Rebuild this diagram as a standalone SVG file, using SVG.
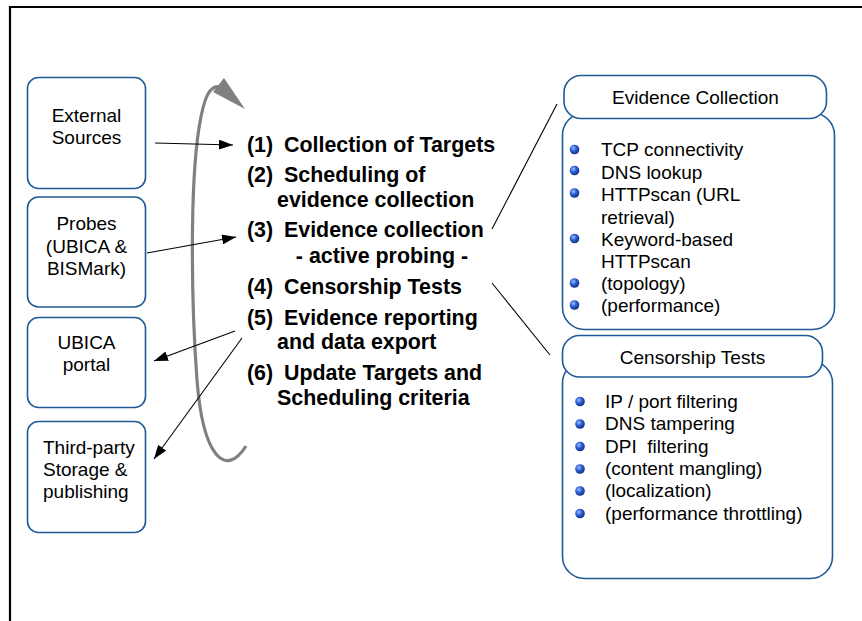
<svg xmlns="http://www.w3.org/2000/svg" width="862" height="621" viewBox="0 0 862 621">
  <defs>
    <style>
      .box { fill: #ffffff; stroke: #1f5a96; stroke-width: 1.6; }
      .lbl { font-family: "Liberation Sans", Arial, sans-serif; font-size: 19px; fill: #000000; }
      .step { font-family: "Liberation Sans", Arial, sans-serif; font-size: 21.4px; font-weight: bold; fill: #000000; }
      .conn { stroke: #000000; stroke-width: 1.1; fill: none; }
      .bul { fill: url(#sphere); }
    </style>
    <marker id="arrow" viewBox="0 0 14 10" refX="14" refY="5" markerWidth="14" markerHeight="10" markerUnits="userSpaceOnUse" orient="auto">
      <path d="M0,0 L14,5 L0,10 Z" fill="#000000"/>
    </marker>
    <radialGradient id="sphere" cx="0.38" cy="0.35" r="0.7">
      <stop offset="0" stop-color="#9fc0ff"/>
      <stop offset="0.45" stop-color="#2f5fd6"/>
      <stop offset="1" stop-color="#0d2a7a"/>
    </radialGradient>
  </defs>

  <!-- frame -->
  <path d="M10,621 V7 H862" fill="none" stroke="#000000" stroke-width="2.2"/>

  <!-- left-hand sources / sinks -->
  <g id="external-sources">
    <rect class="box" x="27.5" y="77.5" width="118" height="111" rx="11"/>
    <text class="lbl" x="86.5" y="122" text-anchor="middle">External</text>
    <text class="lbl" x="86.5" y="144" text-anchor="middle">Sources</text>
  </g>
  <g id="probes">
    <rect class="box" x="27.5" y="197" width="118" height="110" rx="11"/>
    <text class="lbl" x="86.5" y="230" text-anchor="middle">Probes</text>
    <text class="lbl" x="86.5" y="252.5" text-anchor="middle">(UBICA &amp;</text>
    <text class="lbl" x="86.5" y="274.5" text-anchor="middle">BISMark)</text>
  </g>
  <g id="ubica-portal">
    <rect class="box" x="27.5" y="317.5" width="118" height="90" rx="11"/>
    <text class="lbl" x="86.5" y="348.5" text-anchor="middle">UBICA</text>
    <text class="lbl" x="86.5" y="371" text-anchor="middle">portal</text>
  </g>
  <g id="third-party">
    <rect class="box" x="27.5" y="421.5" width="118" height="111" rx="11"/>
    <text class="lbl" x="43" y="453.5">Third-party</text>
    <text class="lbl" x="43" y="475.5">Storage &amp;</text>
    <text class="lbl" x="43" y="497.5">publishing</text>
  </g>

  <!-- workflow cycle -->
  <g id="cycle">
    <path d="M246,446 C226,478 203,458 197,380 C191,300 190,185 199,128 C204,96 210,84 221,87" fill="none" stroke="#808080" stroke-width="3.2"/>
    <polygon points="224,78 245,109 213,92" fill="#808080"/>
  </g>

  <!-- workflow steps -->
  <g id="steps">
    <text class="step" x="247" y="152">(1)</text>
    <text class="step" x="284" y="152">Collection of Targets</text>
    <text class="step" x="247" y="182">(2)</text>
    <text class="step" x="284" y="182">Scheduling of</text>
    <text class="step" x="277" y="207">evidence collection</text>
    <text class="step" x="247" y="237">(3)</text>
    <text class="step" x="284" y="237">Evidence collection</text>
    <text class="step" x="382" y="263" text-anchor="middle">- active probing -</text>
    <text class="step" x="247" y="293.5">(4)</text>
    <text class="step" x="284" y="293.5">Censorship Tests</text>
    <text class="step" x="247" y="325">(5)</text>
    <text class="step" x="284" y="325">Evidence reporting</text>
    <text class="step" x="277" y="348.5">and data export</text>
    <text class="step" x="247" y="379.5">(6)</text>
    <text class="step" x="284" y="379.5">Update Targets and</text>
    <text class="step" x="277" y="405">Scheduling criteria</text>
  </g>

  <!-- connectors -->
  <g id="connectors">
    <line class="conn" x1="155" y1="143" x2="233" y2="145" marker-end="url(#arrow)"/>
    <line class="conn" x1="147" y1="253" x2="236" y2="237" marker-end="url(#arrow)"/>
    <line class="conn" x1="235" y1="331" x2="154" y2="361" marker-end="url(#arrow)"/>
    <line class="conn" x1="242" y1="338" x2="154" y2="459" marker-end="url(#arrow)"/>
    <line class="conn" x1="492" y1="229" x2="557" y2="104"/>
    <line class="conn" x1="492" y1="283" x2="550" y2="355"/>
  </g>

  <!-- evidence collection panel -->
  <g id="evidence-collection">
    <rect class="box" x="562.5" y="113" width="272" height="216.5" rx="22"/>
    <rect class="box" x="564" y="75.5" width="262.5" height="43" rx="17"/>
    <text class="lbl" x="695.5" y="103.5" text-anchor="middle">Evidence Collection</text>
    <circle class="bul" cx="574.5" cy="149.5" r="4.8"/>
    <circle class="bul" cx="574.5" cy="170.5" r="4.8"/>
    <circle class="bul" cx="574.5" cy="193" r="4.8"/>
    <circle class="bul" cx="574.5" cy="238.5" r="4.8"/>
    <circle class="bul" cx="574.5" cy="283" r="4.8"/>
    <circle class="bul" cx="574.5" cy="305" r="4.8"/>
    <text class="lbl" x="601" y="156">TCP connectivity</text>
    <text class="lbl" x="601" y="178.5">DNS lookup</text>
    <text class="lbl" x="601" y="201">HTTPscan (URL</text>
    <text class="lbl" x="601" y="223.5">retrieval)</text>
    <text class="lbl" x="601" y="245.5">Keyword-based</text>
    <text class="lbl" x="601" y="267.5">HTTPscan</text>
    <text class="lbl" x="601" y="290">(topology)</text>
    <text class="lbl" x="601" y="312">(performance)</text>
  </g>

  <!-- censorship tests panel -->
  <g id="censorship-tests">
    <rect class="box" x="562.5" y="361" width="270" height="217.5" rx="22"/>
    <rect class="box" x="562.5" y="335.5" width="260" height="41.5" rx="17"/>
    <text class="lbl" x="692.5" y="363.5" text-anchor="middle">Censorship Tests</text>
    <circle class="bul" cx="580" cy="401.5" r="4.8"/>
    <circle class="bul" cx="580" cy="424" r="4.8"/>
    <circle class="bul" cx="580" cy="446.5" r="4.8"/>
    <circle class="bul" cx="580" cy="469" r="4.8"/>
    <circle class="bul" cx="580" cy="491" r="4.8"/>
    <circle class="bul" cx="580" cy="513.5" r="4.8"/>
    <text class="lbl" x="605" y="407.5">IP / port filtering</text>
    <text class="lbl" x="605" y="430">DNS tampering</text>
    <text class="lbl" x="605" y="452.5">DPI&#160; filtering</text>
    <text class="lbl" x="605" y="475">(content mangling)</text>
    <text class="lbl" x="605" y="497">(localization)</text>
    <text class="lbl" x="605" y="520">(performance throttling)</text>
  </g>
</svg>
